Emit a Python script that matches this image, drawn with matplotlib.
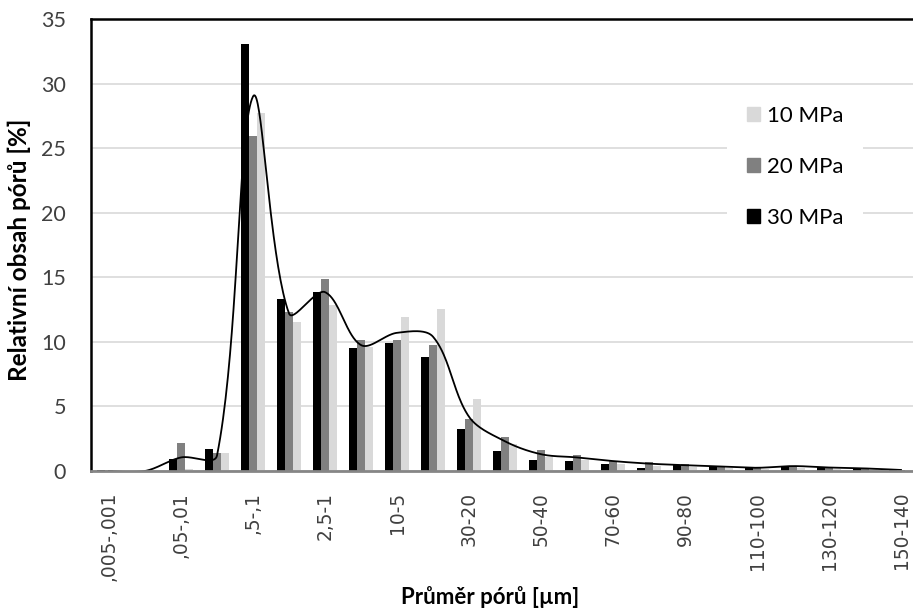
import numpy as np
import matplotlib
matplotlib.use("Agg")
import matplotlib.pyplot as plt
from matplotlib.patches import Patch

plt.rcParams["font.family"] = ["Lato", "DejaVu Sans"]

# pore size classes [um]
categories = [",005-,001", ",01-,005", ",05-,01", ",1-,05", ",5-,1", "1-,5",
              "2,5-1", "5-2,5", "10-5", "20-10", "30-20", "40-30", "50-40",
              "60-50", "70-60", "80-70", "90-80", "100-90", "110-100",
              "120-110", "130-120", "140-130", "150-140"]

# relative pore content [%]
p30 = [0.05, 0.0, 0.9, 1.68, 33.05, 13.3, 13.86, 9.55, 9.89, 8.8, 3.22, 1.55,
       0.88, 0.8, 0.57, 0.27, 0.45, 0.4, 0.2, 0.4, 0.3, 0.2, 0.1]
p20 = [0.05, 0.0, 2.14, 1.4, 25.95, 12.34, 14.87, 10.14, 10.14, 9.73, 4.0, 2.61,
       1.6, 1.25, 0.75, 0.7, 0.58, 0.3, 0.28, 0.38, 0.3, 0.2, 0.1]
p10 = [0.02, 0.0, 0.13, 1.4, 27.7, 11.51, 12.85, 9.63, 11.92, 12.52, 5.58, 2.06,
       1.11, 0.82, 0.56, 0.42, 0.3, 0.22, 0.15, 0.25, 0.17, 0.15, 0.05]

# smoothed trend line
trend = [0.0, 0.0, 1.05, 1.2, 29.0, 12.2, 13.85, 9.75, 10.7, 10.4, 4.2, 2.3,
         1.3, 1.05, 0.77, 0.57, 0.45, 0.35, 0.25, 0.38, 0.27, 0.2, 0.08]


def smooth_line(xs, ys, sx=36.0, sy=12.9, n=40):
    # bezier smoothing similar to Excel's, tangents split by segment length
    P = np.column_stack([np.asarray(xs, float) * sx, np.asarray(ys, float) * sy])
    m = len(P)
    cin, cout = P.copy(), P.copy()
    for i in range(1, m - 1):
        tan = P[i + 1] - P[i - 1]
        d0 = np.hypot(*(P[i] - P[i - 1]))
        d1 = np.hypot(*(P[i + 1] - P[i]))
        cin[i] = P[i] - tan * d0 / (d0 + d1) / 3
        cout[i] = P[i] + tan * d1 / (d0 + d1) / 3
    t = np.linspace(0, 1, n)[:, None]
    out = []
    for i in range(m - 1):
        p1, c1, c2, p2 = P[i], cout[i], cin[i + 1], P[i + 1]
        out.append(((1 - t) ** 3) * p1 + 3 * ((1 - t) ** 2) * t * c1
                   + 3 * (1 - t) * t ** 2 * c2 + t ** 3 * p2)
    out = np.vstack(out)
    return out[:, 0] / sx, out[:, 1] / sy


W, H = 913, 612
fig = plt.figure(figsize=(W / 100, H / 100), dpi=100)
ax = fig.add_axes([91 / W, 1 - 471 / H, 828 / W, 452 / H])

x = np.arange(len(categories))
w = 0.222
ax.bar(x - w, p30, w, color="black", label="30 MPa", zorder=3)
ax.bar(x, p20, w, color="#808080", label="20 MPa", zorder=3)
ax.bar(x + w, p10, w, color="#d9d9d9", label="10 MPa", zorder=3)

sx_, sy_ = smooth_line(x, trend)
ax.plot(sx_, sy_, color="black", lw=1.3, zorder=4)

ax.set_xlim(-0.5, len(categories) - 0.5)
ax.set_ylim(0, 35)
ax.set_yticks(range(0, 36, 5))
ax.set_xticks(x[::2])
ax.set_xticklabels(categories[::2], rotation=90, family=["DejaVu Sans"],
                   fontsize=13.4, color="#404040")
ax.tick_params(axis="x", length=0, pad=15)
ax.tick_params(axis="y", length=0, pad=18, labelsize=15.5, labelcolor="#404040")

ax.grid(axis="y", color="#d9d9d9", lw=1.2, zorder=0)
ax.set_axisbelow(True)
ax.spines["right"].set_visible(False)
ax.spines["left"].set_linewidth(1.8)
ax.spines["top"].set_linewidth(1.8)
ax.spines["bottom"].set_color("#868686")
ax.spines["bottom"].set_linewidth(2)
ax.spines["bottom"].set_zorder(5)

handles = [Patch(color="#d9d9d9"), Patch(color="#808080"), Patch(color="black")]
leg = ax.legend(handles, ["10 MPa", "20 MPa", "30 MPa"], loc="center",
                bbox_to_anchor=(795 / W, 1 - 167 / H), bbox_transform=fig.transFigure,
                fontsize=16, frameon=True, fancybox=False, framealpha=1,
                edgecolor="none", facecolor="white", labelspacing=1.4,
                handlelength=0.62, handleheight=0.62, handletextpad=0.3,
                borderpad=0.9, borderaxespad=0)
leg.set_zorder(6)

fig.text(490 / W, 1 - 597 / H, "Průměr pórů [µm]", ha="center", va="center",
         fontsize=16, fontweight="bold")
fig.text(19 / W, 1 - 250 / H, "Relativní obsah pórů [%]", ha="center", va="center",
         rotation=90, fontsize=17.5, fontweight="bold")

fig.savefig("out.png", dpi=100)
